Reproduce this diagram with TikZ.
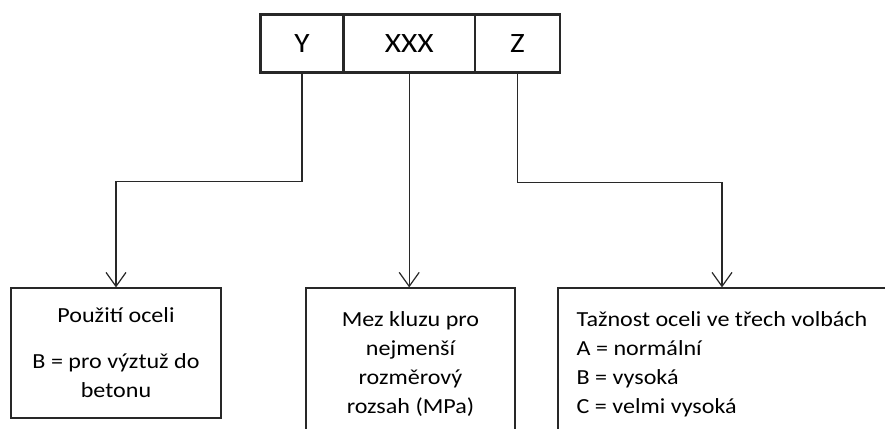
\documentclass[tikz,border=0pt]{standalone}
\usepackage{fontspec}
\setmainfont{Carlito}[FakeStretch=1.12]
\usetikzlibrary{arrows.meta, positioning}
\definecolor{ink}{RGB}{40,40,40}

\begin{document}
\begin{tikzpicture}[x=1pt, y=-1pt,
  cell/.style={draw=ink, line width=1.2pt, minimum height=56pt, inner sep=0pt,
    font=\fontsize{28}{34}\selectfont},
  box/.style={draw=ink, line width=1.2pt, align=center, inner sep=0pt,
    font=\fontsize{21.5}{29}\selectfont},
  >={Straight Barb[length=14pt, width=20pt]}]
  \clip (0,0) rectangle (885,428);
  \fill[white] (0,0) rectangle (885,428);
  % code box
  \node[cell, minimum width=82pt] (cy) at (302,43.5) {Y};
  \node[cell, minimum width=130pt, right=0pt of cy] (cx) {XXX};
  \node[cell, minimum width=84pt, right=0pt of cx] (cz) {Z};
  \draw[ink, line width=2.8pt] (cy.north west) rectangle (cz.south east);
  % meaning of each part
  \node[box, minimum width=210pt, minimum height=130pt] (bl) at (116,353)
    {Použití oceli\\[17pt]B = pro výztuž do\\betonu};
  \node[box, minimum width=209pt, minimum height=152pt] (bm) at (410.5,364)
    {Mez kluzu pro\\nejmenší\\rozměrový\\rozsah (MPa)};
  \node[box, align=left, minimum width=328pt, minimum height=152pt] (br) at (722,364)
    {Tažnost oceli ve třech volbách\\A = normální\\B = vysoká\\C = velmi vysoká};
  \draw[->, ink, line width=1.2pt] (cy.south) -- ++(0,109) -| (bl.north);
  \draw[->, ink, line width=1.2pt] (cx.south) -- (cx.south |- bm.north);
  \draw[->, ink, line width=1.2pt] (cz.south) -- ++(0,110) -| (br.north);
\end{tikzpicture}
\end{document}
